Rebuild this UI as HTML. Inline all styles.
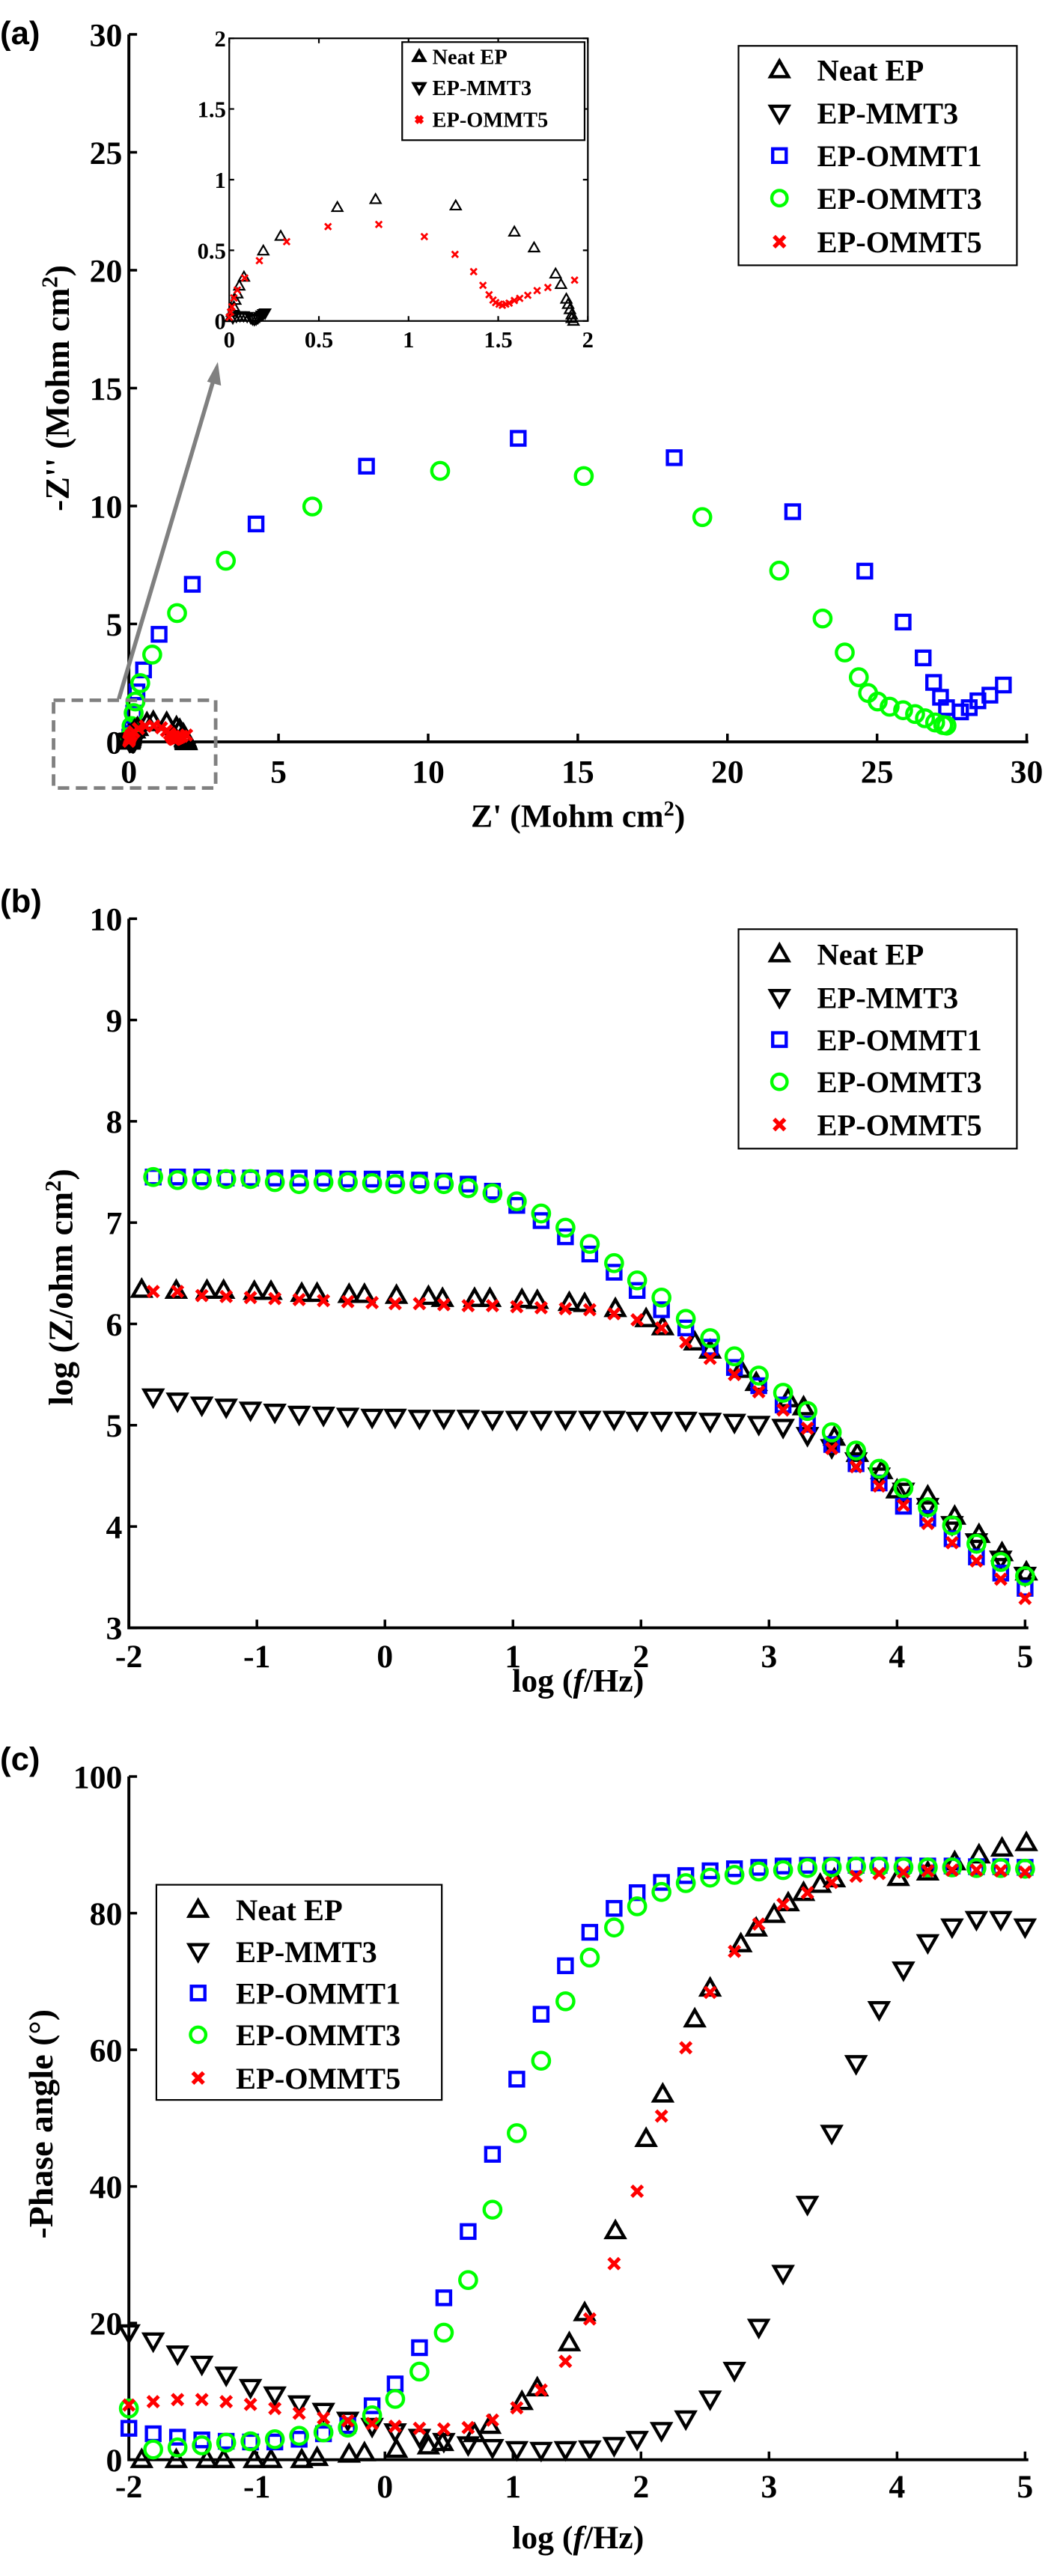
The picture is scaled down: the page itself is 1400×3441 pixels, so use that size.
<!DOCTYPE html>
<html><head><meta charset="utf-8"><style>
html,body{margin:0;padding:0;background:#fff;}
svg{display:block;}
text{font-family:"Liberation Serif",serif;font-weight:bold;fill:#000;}
.pl{font-family:"Liberation Sans",sans-serif;font-weight:bold;}
</style></head><body>
<svg id="fig" width="1400" height="3441" viewBox="0 0 640 1573" preserveAspectRatio="none" xmlns="http://www.w3.org/2000/svg"></svg>
<script>
// ---------- Panel (a) Nyquist data ----------
const aBlueX=[0.03,0.05,0.09,0.16,0.27,0.49,1.01,2.12,4.25,7.94,13.01,18.22,22.18,24.59,25.87,26.54,26.89,27.12,27.32,27.79,28.08,28.37,28.77,29.22];
const aBlueY=[0.2,0.35,0.56,1.22,2.12,3.05,4.56,6.68,9.24,11.69,12.87,12.05,9.76,7.24,5.08,3.56,2.52,1.89,1.45,1.27,1.45,1.74,1.98,2.41];
const aGreenX=[0.04,0.09,0.16,0.22,0.38,0.78,1.61,3.24,6.13,10.40,15.20,19.16,21.73,23.18,23.92,24.39,24.70,25.02,25.42,25.87,26.27,26.60,26.94,27.21,27.32];
const aGreenY=[0.22,0.67,1.22,1.71,2.49,3.70,5.46,7.68,9.98,11.49,11.27,9.53,7.26,5.23,3.79,2.74,2.07,1.71,1.49,1.34,1.18,1.00,0.82,0.71,0.69];
const aNeatX=[0.007,0.015,0.026,0.034,0.045,0.056,0.082,0.19,0.287,0.603,0.816,1.263,1.59,1.70,1.82,1.85,1.88,1.89,1.90,1.91,1.91,1.92];
const aNeatY=[0.026,0.063,0.10,0.148,0.193,0.249,0.312,0.497,0.601,0.805,0.861,0.816,0.631,0.519,0.334,0.26,0.156,0.119,0.082,0.045,0.019,0.0];
const aMmtX=[0.02,0.04,0.06,0.08,0.10,0.12,0.13,0.14,0.15,0.16,0.17,0.18,0.19,0.20];
const aMmtY=[0.02,0.03,0.035,0.035,0.03,0.02,0.012,0.008,0.012,0.02,0.03,0.04,0.05,0.055];
const aRedX=[0,0.007,0.015,0.026,0.045,0.086,0.168,0.320,0.551,0.834,1.088,1.259,1.363,1.415,1.449,1.471,1.486,1.505,1.523,1.542,1.561,1.590,1.620,1.665,1.717,1.777,1.926];
const aRedY=[0.026,0.063,0.10,0.163,0.219,0.304,0.427,0.561,0.668,0.683,0.597,0.471,0.349,0.252,0.186,0.148,0.130,0.119,0.111,0.119,0.126,0.145,0.160,0.182,0.215,0.237,0.289];
const aTicks=[0,5,10,15,20,25,30];
const insetTicksX=["0","0.5","1","1.5","2"];
const insetTickVals=[0,0.5,1,1.5,2];

// ---------- Panel (b) Bode |Z| data ----------
const freqB=[-1.81,-1.62,-1.43,-1.24,-1.05,-0.86,-0.67,-0.48,-0.29,-0.10,0.08,0.27,0.46,0.65,0.84,1.03,1.22,1.41,1.60,1.79,1.97,2.16,2.35,2.54,2.73,2.92,3.11,3.30,3.49,3.68,3.86,4.05,4.24,4.43,4.62,4.81,5.00];
const bBlue=[7.45,7.45,7.45,7.44,7.44,7.44,7.44,7.44,7.43,7.43,7.43,7.42,7.41,7.38,7.31,7.17,7.02,6.86,6.69,6.51,6.33,6.14,5.96,5.77,5.57,5.39,5.20,5.01,4.81,4.62,4.43,4.20,4.08,3.88,3.70,3.54,3.39];
const bGreen=[7.45,7.42,7.42,7.43,7.43,7.40,7.38,7.40,7.40,7.39,7.38,7.38,7.38,7.34,7.29,7.21,7.09,6.95,6.79,6.60,6.43,6.26,6.05,5.86,5.68,5.49,5.32,5.14,4.93,4.75,4.57,4.38,4.19,4.01,3.83,3.65,3.51];
const bRed=[6.32,6.32,6.28,6.27,6.26,6.25,6.24,6.23,6.22,6.21,6.20,6.20,6.19,6.18,6.18,6.17,6.16,6.15,6.14,6.10,6.04,5.96,5.82,5.66,5.50,5.33,5.15,4.97,4.77,4.59,4.40,4.21,4.03,3.84,3.66,3.48,3.29];
const bMmt=[5.28,5.24,5.20,5.18,5.15,5.13,5.11,5.10,5.09,5.08,5.08,5.07,5.07,5.07,5.06,5.06,5.06,5.06,5.06,5.06,5.05,5.05,5.05,5.04,5.03,5.01,4.98,4.90,4.78,4.65,4.50,4.35,4.20,4.02,3.85,3.68,3.52];
const freqNeat=[-1.90,-1.63,-1.39,-1.26,-1.02,-0.89,-0.65,-0.53,-0.28,-0.16,0.09,0.34,0.45,0.70,0.82,1.07,1.19,1.44,1.56,1.80,2.04,2.17,2.42,2.54,2.78,2.90,3.15,3.27,3.51,3.69,3.88,4.00,4.24,4.45,4.64,4.82,5.01];
const bNeat=[6.34,6.33,6.33,6.33,6.32,6.32,6.30,6.30,6.29,6.29,6.28,6.27,6.25,6.25,6.25,6.24,6.23,6.21,6.20,6.15,6.05,5.97,5.82,5.74,5.55,5.42,5.26,5.18,4.88,4.72,4.55,4.36,4.30,4.10,3.92,3.74,3.55];
const bTicksX=[-2,-1,0,1,2,3,4,5];
const bTicksY=[3,4,5,6,7,8,9,10];

// ---------- Panel (c) phase data ----------
const freqC=[-2.00,-1.81,-1.62,-1.43,-1.24,-1.05,-0.86,-0.67,-0.48,-0.29,-0.10,0.08,0.27,0.46,0.65,0.84,1.03,1.22,1.41,1.60,1.79,1.97,2.16,2.35,2.54,2.73,2.92,3.11,3.30,3.49,3.68,3.86,4.05,4.24,4.43,4.62,4.81,5.00];
const cBlue=[4.6,3.8,3.3,2.9,2.7,2.6,2.6,3.0,3.8,5.0,7.9,11.1,16.4,23.7,33.4,44.7,55.7,65.2,72.3,77.2,80.7,83.0,84.5,85.5,86.2,86.5,86.7,86.9,87.0,87.0,87.0,87.0,87.0,86.9,86.9,86.8,86.8,86.7];
const cGreen=[7.5,1.5,1.8,2.1,2.5,2.7,3.0,3.5,4.0,4.7,6.5,8.9,12.9,18.6,26.3,36.6,47.8,58.4,67.1,73.5,77.9,81.0,83.1,84.4,85.2,85.6,86.1,86.3,86.6,86.7,86.8,86.8,86.7,86.7,86.7,86.6,86.6,86.5];
const cRed=[8.0,8.5,8.8,8.8,8.5,8.1,7.5,6.8,6.1,5.7,5.3,4.9,4.6,4.5,4.7,5.8,7.6,10.2,14.4,20.6,28.7,39.3,50.3,60.3,68.4,74.4,78.4,81.3,83.0,84.5,85.4,85.8,86.0,86.2,86.3,86.3,86.2,86.0];
const cMmt=[18.6,17.4,15.5,14.0,12.4,10.6,9.5,8.2,7.1,5.8,4.9,4.1,3.3,2.7,2.2,1.8,1.5,1.4,1.5,1.6,2.1,3.0,4.3,6.0,8.9,13.1,19.4,27.3,37.4,47.8,58.0,65.9,71.7,75.7,78.0,79.1,79.1,78.0];
const freqNeatC=[-1.90,-1.63,-1.39,-1.26,-1.02,-0.89,-0.65,-0.53,-0.28,-0.16,0.09,0.34,0.45,0.70,0.82,1.07,1.19,1.44,1.56,1.80,2.04,2.17,2.42,2.54,2.78,2.90,3.04,3.15,3.27,3.40,3.51,4.01,4.24,4.45,4.64,4.82,5.01];
const cNeat=[0,0,0,0,0,0,0,0.3,0.8,1.0,1.5,2.0,2.5,3.8,5.0,8.5,10.5,17.1,21.5,33.5,47,53.5,64.5,69,75.5,77.8,79.8,81.5,83,84.2,85,85.2,86,87.5,88.5,89.5,90.3];
const cTicksY=[0,20,40,60,80,100];

const legendNames=["Neat EP","EP-MMT3","EP-OMMT1","EP-OMMT3","EP-OMMT5"];

const NS="http://www.w3.org/2000/svg";
const svg=document.getElementById('fig');
function mk(tag,attrs,parent){const e=document.createElementNS(NS,tag);for(const k in attrs)e.setAttribute(k,attrs[k]);(parent||svg).appendChild(e);return e;}
function scale(d0,d1,p0,p1){return v=>p0+(v-d0)/(d1-d0)*(p1-p0);}

function marker(type,cx,cy,s,color,parent,sw){
  let el;
  sw=sw||2;
  if(type==='up'){el=mk('polygon',{points:`${cx},${cy-s} ${cx-s},${cy+s*0.75} ${cx+s},${cy+s*0.75}`,fill:'none',stroke:color,'stroke-width':sw},parent);}
  else if(type==='down'){el=mk('polygon',{points:`${cx},${cy+s} ${cx-s},${cy-s*0.75} ${cx+s},${cy-s*0.75}`,fill:'none',stroke:color,'stroke-width':sw},parent);}
  else if(type==='sq'){el=mk('rect',{x:cx-s*0.75,y:cy-s*0.75,width:s*1.5,height:s*1.5,fill:'none',stroke:color,'stroke-width':sw},parent);}
  else if(type==='circ'){el=mk('circle',{cx:cx,cy:cy,r:s*0.85,fill:'none',stroke:color,'stroke-width':sw},parent);}
  else {const h=s*0.6;el=mk('path',{d:`M${cx-h},${cy-h}L${cx+h},${cy+h}M${cx-h},${cy+h}L${cx+h},${cy-h}`,stroke:color,'stroke-width':sw+0.3,fill:'none'},parent);}
  return el;
}
const types=['up','down','sq','circ','x'];
const colors=['#000','#000','#0000ff','#00ff00','#ff0000'];

function series(g,xs,ys,sx,sy,type,color,s,name,sw){
  const grp=mk('g',{},g);
  
  
  for(let i=0;i<ys.length;i++){
    const m=marker(type,sx(xs[i]),sy(ys[i]),s,color,grp,sw);
    
    
  }
}

function axes(g,x0,x1,y0,y1,sx,sy,xt,yt,xlabBase,name){
  const ax=mk('path',{d:`M${x0},${y1}L${x0},${y0}L${x1},${y0}`,stroke:'#000','stroke-width':1.8,fill:'none'},g);
  
  
  xt.forEach(v=>{
    const x=sx(v);
    const t=mk('line',{x1:x,y1:y0,x2:x,y2:y0-5,stroke:'#000','stroke-width':1.6},g);
    
    
    const l=mk('text',{x:x,y:xlabBase,'text-anchor':'middle','font-size':20},g);
    l.textContent=String(v);
    
    
  });
  yt.forEach(v=>{
    const y=sy(v);
    const t=mk('line',{x1:x0,y1:y,x2:x0+5,y2:y,stroke:'#000','stroke-width':1.6},g);
    
    
    const l=mk('text',{x:x0-4,y:y+7,'text-anchor':'end','font-size':20},g);
    l.textContent=String(v);
    
    
  });
}

function legend(g,bx,by,bw,bh,mx,tx,ys,fs,ms,name,order){
  const lg=mk('g',{},g);
  
  
  const r=mk('rect',{x:bx,y:by,width:bw,height:bh,fill:'#fff',stroke:'#000','stroke-width':1},lg);
  
  
  order.forEach((k,i)=>{
    const m=marker(types[k],mx,ys[i],ms,colors[k],lg,k===4?2.2:2);
    
    
    const t=mk('text',{x:tx,y:ys[i]+fs*0.35,'font-size':fs},lg);
    t.textContent=legendNames[k];
    
    
  });
}

// ===== Panel (a) =====
const ga=mk('g',{});


const sxa=scale(0,30,78.7,627),sya=scale(0,30,453,21);
const la=mk('text',{x:0,y:27,'font-size':20,class:'pl'},ga);la.textContent='(a)';


axes(ga,78.7,628,453,21,sxa,sya,aTicks,aTicks,478,'panel-a');
series(ga,aBlueX,aBlueY,sxa,sya,'sq','#0000ff',5.5,'series-ep-ommt1');
series(ga,aGreenX,aGreenY,sxa,sya,'circ','#00ff00',6,'series-ep-ommt3');
series(ga,aNeatX,aNeatY,sxa,sya,'up','#000',5.5,'series-neat-ep');
series(ga,aMmtX,aMmtY,sxa,sya,'down','#000',5.5,'series-ep-mmt3');
series(ga,aRedX,aRedY,sxa,sya,'x','#ff0000',5.5,'series-ep-ommt5');
const xla=mk('text',{x:353,y:505,'text-anchor':'middle','font-size':20},ga);
xla.innerHTML="Z' (Mohm cm<tspan dy='-7' font-size='13'>2</tspan><tspan dy='7'>)</tspan>";


const yla=mk('text',{x:0,y:0,'text-anchor':'middle','font-size':21,transform:'translate(42,237) rotate(-90)'},ga);
yla.innerHTML="-Z'' (Mohm cm<tspan dy='-7' font-size='14'>2</tspan><tspan dy='7'>)</tspan>";


const db=mk('rect',{x:32.7,y:427.6,width:99,height:53.6,fill:'none',stroke:'#808080','stroke-width':2.2,'stroke-dasharray':'7,4'},ga);


const arr=mk('line',{x1:72.6,y1:426.7,x2:131,y2:230,stroke:'#808080','stroke-width':2.5},ga);


const ah=mk('polygon',{points:'133,221 126.5,233 135,235.5',fill:'#808080'},ga);


legend(ga,451,28,170,134,476,499,[42.7,69,95,121,147.6],18.5,5.5,'legend-a',[0,1,2,3,4]);

// inset
const gi=mk('g',{},ga);


const sxi=scale(0,2,140,359),syi=scale(0,2,196,23.4);
const ib=mk('rect',{x:140,y:23.4,width:219,height:172.6,fill:'#fff',stroke:'#000','stroke-width':1},gi);


insetTickVals.forEach((v,i)=>{
  const x=sxi(v),y=syi(v);
  const t1=mk('path',{d:`M${x},196v-3M${x},23.4v3M140,${y}h3M359,${y}h-3`,stroke:'#000','stroke-width':1},gi);
  
  
  const lx=mk('text',{x:x,y:212,'text-anchor':'middle','font-size':14},gi);
  lx.textContent=insetTicksX[i];
  
  
  const ly=mk('text',{x:138,y:y+5,'text-anchor':'end','font-size':14},gi);
  ly.textContent=insetTicksX[i];
  
  
});
series(gi,aNeatX,aNeatY,sxi,syi,'up','#000',3.2,'inset-neat-ep',1);
series(gi,aMmtX,aMmtY,sxi,syi,'down','#000',3.2,'inset-ep-mmt3',1);
series(gi,aRedX,aRedY,sxi,syi,'x','#ff0000',3.2,'inset-ep-ommt5',1);
legend(gi,245.6,25.7,111.4,59.9,256,264,[34.5,53.5,73],13,3.2,'inset-legend',[0,1,4]);

// ===== Panel (b) =====
const gb=mk('g',{});


const sxb=scale(-2,5,78.7,626),syb=scale(3,10,994,561);
const lb=mk('text',{x:0,y:557,'font-size':20,class:'pl'},gb);lb.textContent='(b)';


axes(gb,78.7,628,994,561,sxb,syb,bTicksX,bTicksY,1018,'panel-b');
series(gb,freqNeat,bNeat,sxb,syb,'up','#000',5.5,'series-neat-ep');
series(gb,freqB,bMmt,sxb,syb,'down','#000',5.5,'series-ep-mmt3');
series(gb,freqB,bBlue,sxb,syb,'sq','#0000ff',5.5,'series-ep-ommt1');
series(gb,freqB,bGreen,sxb,syb,'circ','#00ff00',6,'series-ep-ommt3');
series(gb,freqB,bRed,sxb,syb,'x','#ff0000',5.5,'series-ep-ommt5');
const xlb=mk('text',{x:353,y:1033,'text-anchor':'middle','font-size':20},gb);
xlb.innerHTML="log (<tspan font-style='italic'>f</tspan>/Hz)";


const ylb=mk('text',{x:0,y:0,'text-anchor':'middle','font-size':21,transform:'translate(44,786) rotate(-90)'},gb);
ylb.innerHTML="log (Z/ohm cm<tspan dy='-7' font-size='14'>2</tspan><tspan dy='7'>)</tspan>";


legend(gb,451,567.4,170,134,476,499,[582.5,609,634.8,660.6,686.7],18.5,5.5,'legend-b',[0,1,2,3,4]);

// ===== Panel (c) =====
const gc=mk('g',{});


const sxc=scale(-2,5,78.7,626),syc=scale(0,100,1502,1084.8);
const lc=mk('text',{x:0,y:1081,'font-size':20,class:'pl'},gc);lc.textContent='(c)';


axes(gc,78.7,628,1502,1084.8,sxc,syc,bTicksX,cTicksY,1525,'panel-c');
series(gc,freqNeatC,cNeat,sxc,syc,'up','#000',5.5,'series-neat-ep');
series(gc,freqC,cMmt,sxc,syc,'down','#000',5.5,'series-ep-mmt3');
series(gc,freqC,cBlue,sxc,syc,'sq','#0000ff',5.5,'series-ep-ommt1');
series(gc,freqC,cGreen,sxc,syc,'circ','#00ff00',6,'series-ep-ommt3');
series(gc,freqC,cRed,sxc,syc,'x','#ff0000',5.5,'series-ep-ommt5');
const xlc=mk('text',{x:353,y:1556,'text-anchor':'middle','font-size':20},gc);
xlc.innerHTML="log (<tspan font-style='italic'>f</tspan>/Hz)";


const ylc=mk('text',{x:0,y:0,'text-anchor':'middle','font-size':21,transform:'translate(32,1297) rotate(-90)'},gc);
ylc.textContent="-Phase angle (°)";


legend(gc,95.5,1150.9,174.3,131.4,121,144,[1166,1191.6,1217,1242.5,1268.9],18.5,5.5,'legend-c',[0,1,2,3,4]);
</script>
</body></html>
